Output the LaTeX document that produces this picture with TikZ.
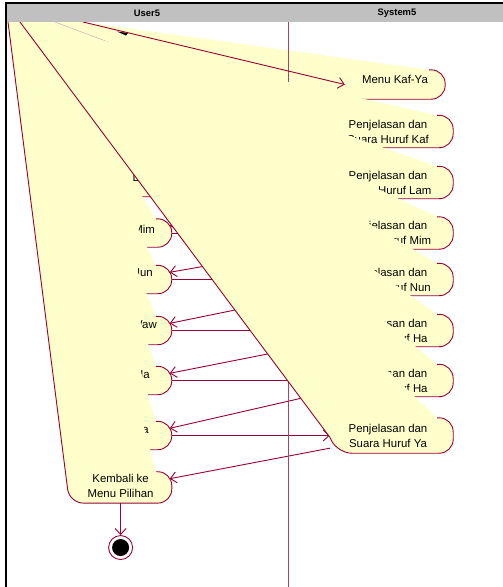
\documentclass[tikz,border=0pt]{standalone}
\usepackage{fontspec}
\setmainfont{Liberation Sans}
\usepackage{xcolor}
\usepackage{tikz}
\usetikzlibrary{arrows.meta,positioning}
\definecolor{roseyellow}{RGB}{255,255,204}
\definecolor{rosered}{RGB}{153,0,51}
\definecolor{lanegray}{RGB}{192,192,192}

\begin{document}
\begin{tikzpicture}[x=1pt, y=-1pt,
    lanehead/.style={font=\fontsize{9.4}{11}\selectfont\bfseries},
    useract/.style={rectangle, inner sep=0pt, minimum width=102pt, minimum height=28pt},
    sysact/.style={rectangle, inner sep=0pt, minimum width=123pt, minimum height=32pt},
    acttext/.style={font=\fontsize{11.4}{15}\selectfont, align=center, inner sep=0pt},
    fanfill/.style={fill=roseyellow, rounded corners=14pt},
    actedge/.style={draw=rosered, line width=0.9pt, rounded corners=14pt},
    flow/.style={draw=rosered, line width=0.9pt, -{Straight Barb[length=6pt,width=11pt]}},
    endstate/.style={circle, draw=rosered, fill=white, line width=0.9pt,
                     minimum size=24pt, inner sep=0pt}
]
\useasboundingbox (0,0) rectangle (503,587);

% where the two fans start
\coordinate (userapex) at (8,22);
\coordinate (usertop) at (36,22);
\coordinate (sysapex) at (20,22);
\coordinate (menustart) at (83,22);

% System5 lane
\node[sysact, minimum width=100pt, minimum height=29pt] (s0) at (395,84.5) {};
\node[sysact] (s1) at (391.5,131.5) {};
\node[sysact] (s2) at (391.5,182.5) {};
\node[sysact] (s3) at (391.5,233) {};
\node[sysact] (s4) at (391.5,279.5) {};
\node[sysact] (s5) at (391.5,330.5) {};
\node[sysact] (s6) at (391.5,380.5) {};
\node[sysact, minimum height=35pt] (s7) at (391.5,435.5) {};

% User5 lane
\node[useract, left=158pt of s2] (u1) {};
\node[useract, left=158pt of s3] (u2) {};
\node[useract, left=158pt of s4] (u3) {};
\node[useract, left=158pt of s5] (u4) {};
\node[useract, left=158pt of s6] (u5) {};
\node[useract, left=158pt of s7] (u6) {};
\node[useract, minimum height=31pt, below=22pt of u6] (kb) {};
\node[endstate, below=32pt of kb] (fin) {};

% flows under the fans
\foreach \u/\s in {u1/s2, u2/s3, u3/s4, u4/s5, u5/s6, u6/s7}
  \draw[flow] (\u.east) -- (\u.east -| \s.west);
\foreach \s/\u in {s1/u1, s2/u2, s3/u3, s4/u4, s5/u5, s6/u6, s7/kb}
  \draw[flow] ([yshift=5pt]\s.south west) -- ([xshift=-2pt,yshift=-7pt]\u.north east);

% user fan
\fill[fanfill] ([xshift=-16pt]u1.north east) -- (u1.north east) -- (u1.south east)
  -- (u1.south west) [sharp corners] -- (userapex) -- (usertop) -- cycle;
\draw[actedge] ([xshift=-16pt]u1.north east) -- (u1.north east) -- (u1.south east) -- (u1.south west);
\node[acttext, anchor=east] (u1-word) at (155,178) {Lam};
\foreach \u/\w/\tx/\ty in {u2/Mim/155/229, u3/Nun/153/273, u4/Waw/157/325,
                           u5/Ha/150/375, u6/Ya/149/430} {
  \fill[fanfill] ([xshift=-16pt]\u.north east) -- (\u.north east) -- (\u.south east)
    -- (\u.south west) [sharp corners] -- (userapex) -- (usertop) -- cycle;
  \draw[actedge] ([xshift=-16pt]\u.north east) -- (\u.north east) -- (\u.south east) -- (\u.south west);
  \node[acttext, anchor=east] (\u-word) at (\tx,\ty) {\w};
}
\fill[fanfill] ([xshift=-16pt]kb.north east) -- (kb.north east) -- (kb.south east)
  -- (kb.south west) -- (userapex) [sharp corners] -- (usertop) -- cycle;
\draw[actedge] ([xshift=-16pt]kb.north east) -- (kb.north east) -- (kb.south east)
  -- (kb.south west) -- (userapex);
\node[acttext] (kb-text) at ([yshift=1pt]kb.center) {Kembali ke\\Menu Pilihan};

% system fan
\fill[fanfill] ([xshift=-16pt]s0.north east) -- (s0.north east) -- (s0.south east)
  -- (s0.south west) [sharp corners] -- (sysapex) -- (menustart) -- cycle;
\draw[actedge] ([xshift=-16pt]s0.north east) -- (s0.north east) -- (s0.south east) -- (s0.south west);
\node[acttext] (s0-text) at ([yshift=5pt]s0.center) {Menu Kaf-Ya};
\draw[rosered!75, line width=0.8pt] (288,22) -- (288,587);
\draw[rosered!35, line width=0.5pt] (menustart) ++(-28,0) -- (143,55);
\fill (117,31.5) -- (128,33) -- (126,35.5) -- cycle;
\draw[flow] (menustart) -- (s0.west);

\foreach \s/\txt in {s1/{Penjelasan dan\\Suara Huruf Kaf}, s2/{Penjelasan dan\\Suara Huruf Lam},
                     s3/{Penjelasan dan\\Suara Huruf Mim}, s4/{Penjelasan dan\\Suara Huruf Nun},
                     s5/{Penjelasan dan\\Suara Huruf Ha}, s6/{Penjelasan dan\\Suara Huruf Ha}} {
  \fill[fanfill] ([xshift=-16pt]\s.north east) -- (\s.north east) -- (\s.south east)
    -- (\s.south west) [sharp corners] -- (sysapex) -- cycle;
  \draw[actedge] ([xshift=-16pt]\s.north east) -- (\s.north east) -- (\s.south east) -- (\s.south west);
  \node[acttext] (\s-text) at ([xshift=-3.5pt]\s.center) {\txt};
}
\fill[fanfill] ([xshift=-16pt]s7.north east) -- (s7.north east) -- (s7.south east)
  -- ([xshift=8pt]s7.south west) [sharp corners] -- ([yshift=16pt]s7.south west) -- (sysapex) -- cycle;
\draw[actedge] ([xshift=-16pt]s7.north east) -- (s7.north east) -- (s7.south east)
  -- ([xshift=8pt]s7.south west) [sharp corners] -- ([yshift=16pt]s7.south west) -- (sysapex);
\node[acttext] (s7-text) at ([xshift=-3.5pt]s7.center) {Penjelasan dan\\Suara Huruf Ya};

% end
\draw[flow] (kb) -- (fin);
\fill (fin.center) circle[radius=8.5pt];

% lanes
\fill[lanegray] (6,3) rectangle (503,22);
\node[lanehead] (userlane) at (147,13) {User5};
\node[lanehead] (syslane) at (397,13) {System5};
\draw[line width=1.6pt] (6,587) -- (6,3) -- (503,3);
\end{tikzpicture}
\end{document}
